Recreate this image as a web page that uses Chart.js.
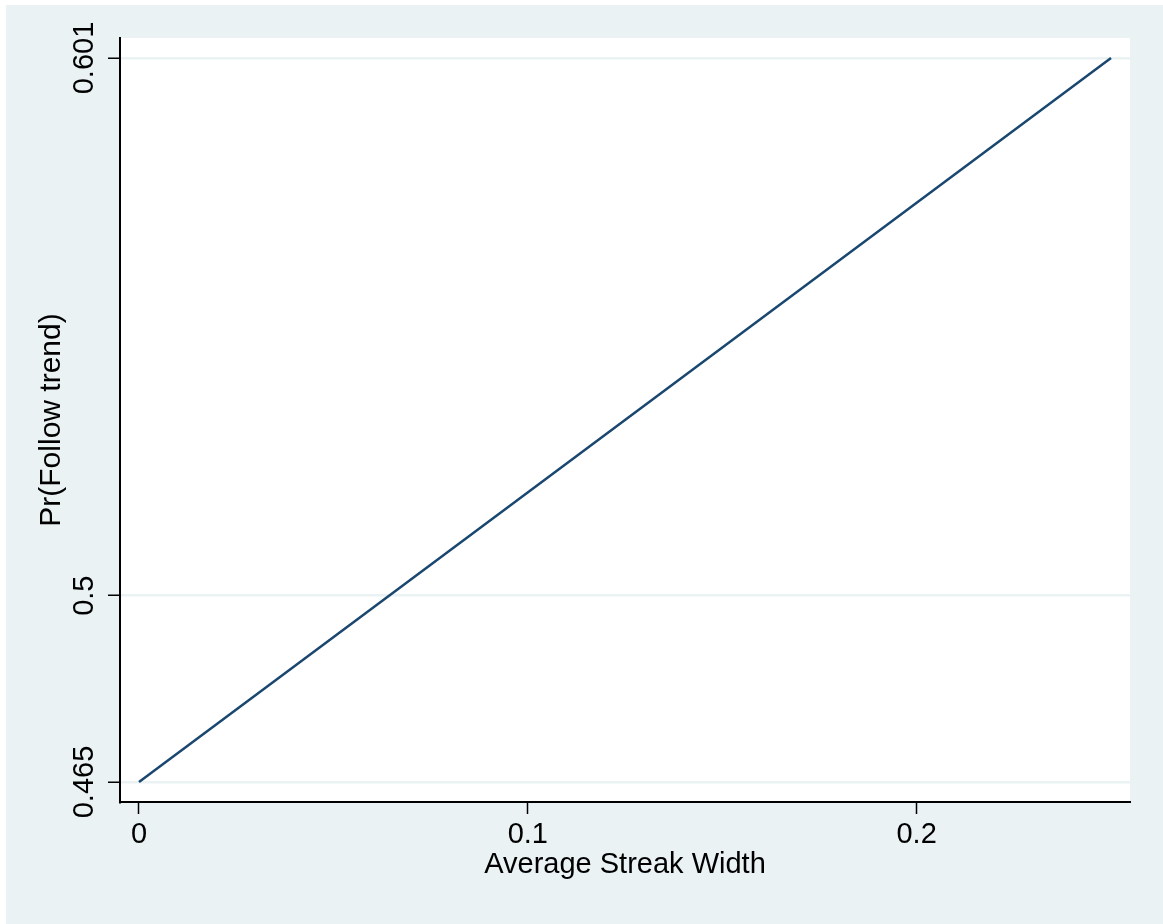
<!doctype html>
<html lang="en">
  <head>
    <meta charset="utf-8">
    <title>Pr(Follow trend)</title>
    <script src="https://cdn.jsdelivr.net/npm/chart.js"></script>
    <style>
      body { margin: 0; background: #ffffff; }
      #wrap { width: 1163px; height: 924px; }
    </style>
  </head>
  <body>
    <div id="wrap">
      <canvas id="myChart" width="1163" height="924"></canvas>
    </div>
    <script>
      // data
      const streakWidth = [0, 0.25];
      const prFollow = [0.465, 0.601];
      const xTicks = [0, 0.1, 0.2];
      const yTicks = [0.465, 0.5, 0.601];
      const yTickLabels = ["0.465", "0.5", "0.601"];

      const bg = "#eaf2f3";
      const fontFam = "'Liberation Sans', Arial, sans-serif";

      // stata style background: outer panel + white plot region
      const panelBg = {
        id: "panelBg",
        beforeDraw(chart) {
          const c = chart.ctx;
          const a = chart.chartArea;
          c.save();
          c.fillStyle = "#ffffff";
          c.fillRect(0, 0, chart.width, chart.height);
          c.fillStyle = bg;
          c.fillRect(6, 5, chart.width - 6, chart.height - 5);
          c.fillStyle = "#ffffff";
          c.fillRect(a.left, a.top, a.right - a.left, a.bottom - a.top);
          c.restore();
        }
      };

      // rotated y tick labels, placed with the y scale
      const yLabels = {
        id: "yLabels",
        afterDraw(chart) {
          const c = chart.ctx;
          const sc = chart.scales.y;
          c.save();
          c.fillStyle = "#000";
          c.font = "29px " + fontFam;
          c.textAlign = "center";
          c.textBaseline = "alphabetic";
          sc.ticks.forEach(function (t, i) {
            const py = sc.getPixelForValue(t.value);
            c.save();
            c.translate(93, py);
            c.rotate(-Math.PI / 2);
            c.fillText(yTickLabels[i], 0, 0);
            c.restore();
          });
          c.restore();
        }
      };

      const ctx = document.getElementById("myChart");
      const myChart = new Chart(ctx, {
        type: "scatter",
        data: {
          datasets: [
            {
              data: streakWidth.map((x, i) => ({ x: x, y: prFollow[i] })),
              showLine: true,
              borderColor: "#1a476f",
              borderWidth: 2.5,
              pointRadius: 0,
              fill: false
            }
          ]
        },
        options: {
          responsive: false,
          animation: false,
          layout: { padding: { top: 38, right: 33, left: 0, bottom: 0 } },
          plugins: {
            legend: { display: false },
            tooltip: { enabled: false }
          },
          scales: {
            x: {
              type: "linear",
              min: -0.004884,
              max: 0.254884,
              afterBuildTicks: (s) => { s.ticks = xTicks.map(v => ({ value: v })); },
              afterFit: (s) => { s.height = 122; },
              border: { color: "#000", width: 2 },
              grid: { drawOnChartArea: false, tickColor: "#000", tickLength: 12, tickWidth: 1.5 },
              ticks: {
                color: "#000",
                padding: 4,
                maxRotation: 0,
                font: { size: 29, family: fontFam },
                callback: (v) => String(v)
              },
              title: {
                display: true,
                text: "Average Streak Width",
                color: "#000",
                font: { size: 29, family: fontFam },
                padding: { top: 0, bottom: 42 }
              }
            },
            y: {
              type: "linear",
              min: 0.461243,
              max: 0.604757,
              afterBuildTicks: (s) => { s.ticks = yTicks.map(v => ({ value: v })); },
              afterFit: (s) => { s.width = 120; },
              border: { color: "#000", width: 2 },
              grid: { color: bg, lineWidth: 2.5, tickColor: "#000", tickLength: 12, tickWidth: 1.5 },
              ticks: { display: false },
              title: {
                display: true,
                text: "Pr(Follow trend)",
                color: "#000",
                font: { size: 30, family: fontFam },
                padding: { top: 34, bottom: 0 }
              }
            }
          }
        },
        plugins: [panelBg, yLabels]
      });
    </script>
  </body>
</html>
